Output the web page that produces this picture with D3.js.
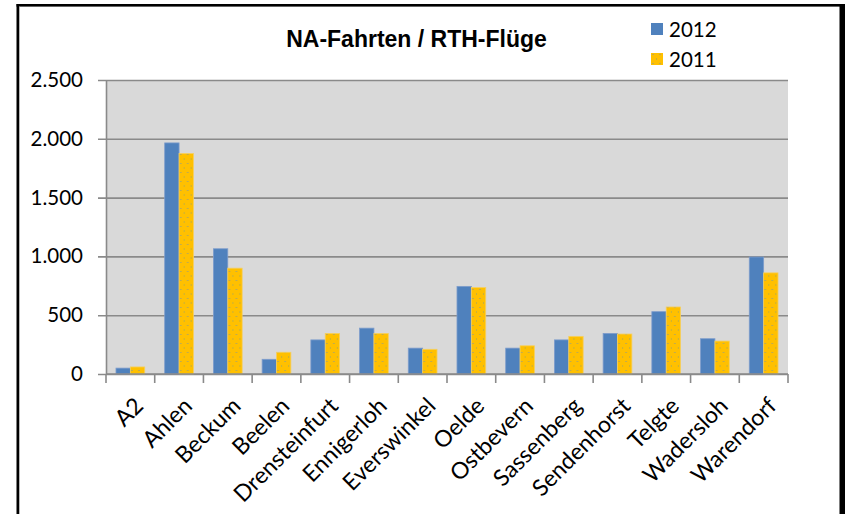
<!DOCTYPE html>
<html>
<head>
<meta charset="utf-8">
<script src="https://cdn.jsdelivr.net/npm/d3@7"></script>
<style>
  html, body { margin: 0; padding: 0; background: #fff; }
  svg { display: block; }
</style>
</head>
<body>
<div id="chart"></div>
<script>
// NA-Fahrten / RTH-Flüge – grouped bars 2012 vs 2011

const categories = ["A2", "Ahlen", "Beckum", "Beelen", "Drensteinfurt", "Ennigerloh", "Everswinkel",
  "Oelde", "Ostbevern", "Sassenberg", "Sendenhorst", "Telgte", "Wadersloh", "Warendorf"];
const series = ["2012", "2011"];
const values2012 = [50, 1965, 1065, 125, 290, 390, 220, 745, 220, 290, 345, 530, 300, 995];
const values2011 = [60, 1875, 900, 185, 345, 345, 210, 735, 240, 320, 340, 570, 280, 860];
const yTicks = [0, 500, 1000, 1500, 2000, 2500];

const W = 845, H = 514;
const plot = { left: 106, right: 788, top: 80, bottom: 374 };
const blue = "#4F81BD", gold = "#FFC000", grid = "#8a8a8a";

const fmt = v => d3.format(",")(v).replace(/,/g, ".");

const svg = d3.select("#chart").append("svg")
  .attr("width", W)
  .attr("height", H);

// pattern for 2011 bars (gold with tiny dots)
const defs = svg.append("defs");
const pat = defs.append("pattern")
  .attr("id", "dots")
  .attr("patternUnits", "userSpaceOnUse")
  .attr("width", 7)
  .attr("height", 9);
pat.append("rect").attr("width", 7).attr("height", 9).attr("fill", gold);
pat.append("rect").attr("x", 1.5).attr("y", 1).attr("width", 1).attr("height", 1).attr("fill", "#7f97a0");
pat.append("rect").attr("x", 5).attr("y", 5.5).attr("width", 1).attr("height", 1).attr("fill", "#94a070");

// frame
svg.append("rect").attr("x", 16.5).attr("y", 4).attr("width", 2.6).attr("height", H).attr("fill", "#000");
svg.append("rect").attr("x", 16.5).attr("y", 4).attr("width", W).attr("height", 2.6).attr("fill", "#000");
svg.append("rect").attr("x", 839.5).attr("y", 4).attr("width", 6).attr("height", H).attr("fill", "#000");
svg.append("rect").attr("x", 19.1).attr("y", 6.6).attr("width", 0.8).attr("height", H).attr("fill", "#aaa");

// scales
const x0 = d3.scaleBand()
  .domain(categories)
  .range([plot.left, plot.right])
  .paddingInner(0.41)
  .paddingOuter(0.205);
const x1 = d3.scaleBand()
  .domain(series)
  .range([0, x0.bandwidth()]);
const y = d3.scaleLinear()
  .domain([0, 2500])
  .range([plot.bottom, plot.top]);

// plot background
svg.append("rect")
  .attr("x", plot.left).attr("y", plot.top)
  .attr("width", plot.right - plot.left).attr("height", plot.bottom - plot.top)
  .attr("fill", "#D9D9D9");

// y axis with gridlines
const yAxis = svg.append("g")
  .attr("transform", `translate(${plot.left},0)`)
  .call(d3.axisLeft(y).tickValues(yTicks).tickFormat(fmt)
    .tickSizeInner(-(plot.right - plot.left)).tickSizeOuter(0).tickPadding(23));
yAxis.select(".domain").attr("stroke", grid).attr("stroke-width", 1.6);
yAxis.selectAll(".tick line").attr("stroke", grid).attr("stroke-width", 1.6).attr("x1", -8);
yAxis.selectAll(".tick text")
  .attr("fill", "#000")
  .style("font-family", "Lato, 'Open Sans', sans-serif")
  .style("font-size", "20.5px");

// bars
const rows = categories.map((c, i) => ({ cat: c, vals: [
  { s: "2012", v: values2012[i] },
  { s: "2011", v: values2011[i] }
] }));

const groups = svg.append("g").selectAll("g")
  .data(rows)
  .join("g")
  .attr("transform", d => `translate(${x0(d.cat)},0)`);

groups.selectAll("rect")
  .data(d => d.vals)
  .join("rect")
  .attr("x", d => x1(d.s))
  .attr("y", d => y(d.v))
  .attr("width", x1.bandwidth())
  .attr("height", d => y(0) - y(d.v))
  .attr("fill", d => d.s === "2012" ? blue : "url(#dots)")
  .attr("stroke", d => d.s === "2012" ? "#7d9ccc" : "#f5cf60")
  .attr("stroke-width", 0.8);

// x axis: category boundary ticks
const step = x0.step();
const bounds = d3.range(categories.length + 1).map(i => plot.left + i * step);
svg.append("line")
  .attr("x1", plot.left).attr("x2", plot.right)
  .attr("y1", plot.bottom).attr("y2", plot.bottom)
  .attr("stroke", grid).attr("stroke-width", 1.6);
svg.append("g").selectAll("line")
  .data(bounds)
  .join("line")
  .attr("x1", d => d).attr("x2", d => d)
  .attr("y1", plot.bottom).attr("y2", plot.bottom + 9)
  .attr("stroke", grid).attr("stroke-width", 1.6);

// rotated category labels
svg.append("g").selectAll("text")
  .data(categories)
  .join("text")
  .attr("transform", d => `translate(${x0(d) + x0.bandwidth() / 2 + 3},396) rotate(-45)`)
  .attr("text-anchor", "end")
  .attr("dy", "0.7em")
  .style("font-family", "Lato, 'Open Sans', sans-serif")
  .style("font-size", "23px")
  .attr("fill", "#000")
  .text(d => d);

// title
svg.append("text")
  .attr("x", 416.5).attr("y", 47)
  .attr("text-anchor", "middle")
  .style("font-family", "'Liberation Sans', Arial, sans-serif")
  .style("font-weight", "bold")
  .style("font-size", "23px")
  .text("NA-Fahrten / RTH-Flüge");

// legend
const legend = svg.append("g").selectAll("g")
  .data(series)
  .join("g")
  .attr("transform", (d, i) => `translate(651,${23 + i * 30})`);
legend.append("rect")
  .attr("width", 12).attr("height", 12)
  .attr("fill", d => d === "2012" ? blue : "url(#dots)");
legend.append("text")
  .attr("x", 18).attr("y", 13.5)
  .style("font-family", "Lato, 'Open Sans', sans-serif")
  .style("font-size", "20.5px")
  .attr("fill", "#000")
  .text(d => d);
</script>
</body>
</html>
